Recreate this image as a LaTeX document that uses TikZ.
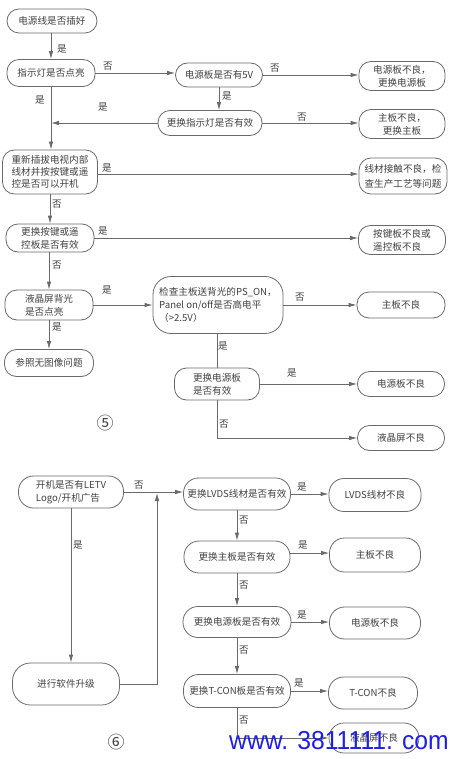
\documentclass[tikz,border=0pt]{standalone}
\usepackage{fontspec}
\setmainfont{Noto Sans CJK SC}
\newfontfamily\wmfont{Liberation Sans}
\usetikzlibrary{arrows.meta,calc}
\definecolor{linec}{HTML}{6A6A6A}
\definecolor{txt}{HTML}{404040}
\definecolor{wmblue}{HTML}{1E1EE6}
\newcommand\fs{\fontsize{9.6}{13}\selectfont}
\tikzset{
  box/.style={draw=linec, line width=0.8pt, rounded corners=12pt, inner sep=1pt, align=center, font=\fs, text=txt},
  lbl/.style={inner sep=0pt, font=\fs, text=txt},
  arr/.style={draw=linec, line width=0.8pt, -{Latex[length=8pt,width=4.5pt]}},
  ln/.style={draw=linec, line width=0.8pt},
}
\begin{document}
\begin{tikzpicture}[x=1pt,y=-1pt]
\useasboundingbox (0,0) rectangle (464,759);
% ---------- diagram 5 ----------
\node[box, minimum width=90pt, minimum height=24pt] (A) at (52,21) {电源线是否插好};
\node[box, minimum width=88pt, minimum height=27pt] (B) at (51,73) {指示灯是否点亮};
\node[box, minimum width=87pt, minimum height=24pt] (C) at (219,75) {电源板是否有5V};
\node[box, minimum width=86pt, minimum height=29pt] (D) at (402,76) {电源板不良，\\更换电源板};
\node[box, minimum width=104pt, minimum height=25pt] (E) at (210,123) {更换指示灯是否有效};
\node[box, minimum width=86pt, minimum height=29pt] (F) at (402,124) {主板不良，\\更换主板};
\node[box, minimum width=95pt, minimum height=44pt, align=left, font=\fontsize{9.6}{12}\selectfont] (G) at (50,172) {重新插拔电视内部\\线材并按按键或遥\\控是否可以开机};
\node[box, minimum width=88pt, minimum height=36pt, font=\fontsize{9.6}{15}\selectfont] (H) at (403,176) {线材接触不良，检\\查生产工艺等问题};
\node[box, minimum width=88pt, minimum height=28pt] (I) at (50,238) {更换按键或遥\\控板是否有效};
\node[box, minimum width=87pt, minimum height=29pt, align=left] (J) at (402,240) {按键板不良或\\遥控板不良};
\node[box, minimum width=88pt, minimum height=30pt, align=left] (K) at (49,305) {液晶屏背光\\是否点亮};
\node[box, minimum width=130pt, minimum height=57pt, align=left, rounded corners=18pt] (L) at (218,305) {检查主板送背光的PS\_ON，\\Panel on/off是否高电平\\（>2.5V）};
\node[box, minimum width=88pt, minimum height=26pt] (M) at (401,305) {主板不良};
\node[box, minimum width=89pt, minimum height=27pt] (N) at (49,363) {参照无图像问题};
\node[box, minimum width=85pt, minimum height=32pt, align=left] (O) at (217,384) {更换电源板\\是否有效};
\node[box, minimum width=87pt, minimum height=25pt] (P) at (401,384) {电源板不良};
\node[box, minimum width=87pt, minimum height=25pt] (Q) at (401,438) {液晶屏不良};
\node[font=\fontsize{17}{17}\selectfont, text=txt, inner sep=0pt] (n5) at (105,423) {⑤};
\coordinate (bg) at (B.south |- E.west);
% connectors 5
\draw[arr] (A.south -| B.south) -- (B.north);
\draw[arr] (B.east) -- (B.east -| C.west);
\draw[arr] (C.east) -- (C.east -| D.west);
\draw[arr] (C.south) -- (C.south |- E.north);
\draw[arr] (E.west) -- (bg);
\draw[arr] (E.east) -- (E.east -| F.west);
\draw[arr] (B.south) -- (B.south |- G.north);
\draw[arr] ($(G.east)+(0,2)$) -- ($(G.east -| H.west)+(0,2)$);
\draw[arr] (G.south) -- (G.south |- I.north);
\draw[arr] (I.east) -- (I.east -| J.west);
\draw[arr] (I.south -| K.north) -- (K.north);
\draw[arr] (K.east) -- (K.east -| L.west);
\draw[arr] (L.east) -- (L.east -| M.west);
\draw[arr] (K.south) -- (K.south |- N.north);
\draw[ln] (L.south -| O.north) -- (O.north);
\draw[arr] (O.east) -- (O.east -| P.west);
\draw[arr] (O.south) |- (Q.west);
% labels 5
\node[lbl] (l1) at (62,49) {是};
\node[lbl] (l2) at (108,66) {否};
\node[lbl] (l3) at (275,68) {否};
\node[lbl] (l4) at (227,96) {是};
\node[lbl] (l5) at (103,107) {是};
\node[lbl] (l6) at (302,117) {否};
\node[lbl] (l7) at (40,100) {是};
\node[lbl] (l8) at (107,168) {是};
\node[lbl] (l9) at (57,204) {否};
\node[lbl] (l10) at (103,231) {是};
\node[lbl] (l11) at (57,265) {否};
\node[lbl] (l12) at (107,290) {是};
\node[lbl] (l13) at (300,297) {否};
\node[lbl] (l14) at (57,327) {是};
\node[lbl] (l15) at (223,346) {是};
\node[lbl] (l16) at (292,373) {是};
\node[lbl] (l17) at (224,424) {否};
% ---------- diagram 6 ----------
\node[box, minimum width=105pt, minimum height=32pt, align=left, rounded corners=15pt] (R) at (71,492) {开机是否有LETV\\Logo/开机广告};
\node[box, minimum width=107pt, minimum height=32pt, rounded corners=15pt] (S) at (237,494) {更换LVDS线材是否有效};
\node[box, minimum width=92pt, minimum height=33pt, rounded corners=15pt] (T) at (375,495) {LVDS线材不良};
\node[box, minimum width=106pt, minimum height=32pt, rounded corners=15pt] (U) at (237,557) {更换主板是否有效};
\node[box, minimum width=91pt, minimum height=34pt, rounded corners=15pt] (V) at (375,555) {主板不良};
\node[box, minimum width=108pt, minimum height=31pt, rounded corners=15pt] (W) at (237,622) {更换电源板是否有效};
\node[box, minimum width=91pt, minimum height=32pt, rounded corners=15pt] (X) at (375,623) {电源板不良};
\node[box, minimum width=107pt, minimum height=33pt, rounded corners=15pt] (Y) at (237,691) {更换T-CON板是否有效};
\node[box, minimum width=89pt, minimum height=32pt, rounded corners=15pt] (Z) at (373,693) {T-CON不良};
\node[box, minimum width=90pt, minimum height=30pt, rounded corners=15pt] (AA) at (374,738) {液晶屏不良};
\node[box, minimum width=107pt, minimum height=42pt, rounded corners=18pt] (AB) at (66,684) {进行软件升级};
\node[font=\fontsize{17}{17}\selectfont, text=txt, inner sep=0pt] (n6) at (116,742) {⑥};
\coordinate (j6) at (157,493);
% connectors 6
\draw[arr] (R.east) -- (R.east -| S.west);
\draw[arr] (AB.east) -| (j6);
\draw[arr] (R.south) -- (R.south |- AB.north);
\draw[arr] (S.east) -- (S.east -| T.west);
\draw[arr] (S.south) -- (S.south |- U.north);
\draw[arr] ($(U.east)+(0,-4)$) -- ($(U.east -| V.west)+(0,-4)$);
\draw[arr] (U.south) -- (U.south |- W.north);
\draw[arr] (W.east) -- (W.east -| X.west);
\draw[arr] (W.south) -- (W.south |- Y.north);
\draw[arr] (Y.east) -- (Y.east -| Z.west);
\draw[arr] (Y.south) |- (AA.west);
% labels 6
\node[lbl] (m1) at (139,485) {否};
\node[lbl] (m2) at (302,487) {是};
\node[lbl] (m3) at (244,520) {否};
\node[lbl] (m4) at (303,545) {是};
\node[lbl] (m5) at (244,585) {否};
\node[lbl] (m6) at (302,615) {是};
\node[lbl] (m7) at (244,650) {否};
\node[lbl] (m8) at (299,683) {是};
\node[lbl] (m9) at (244,720) {否};
\node[lbl] (m10) at (78,545) {是};
% watermark
\node[font=\wmfont\fontsize{26}{26}\selectfont, text=wmblue, inner sep=0pt, xscale=0.95] (wm) at (339,741) {www. 3811111. com};
\end{tikzpicture}
\end{document}
